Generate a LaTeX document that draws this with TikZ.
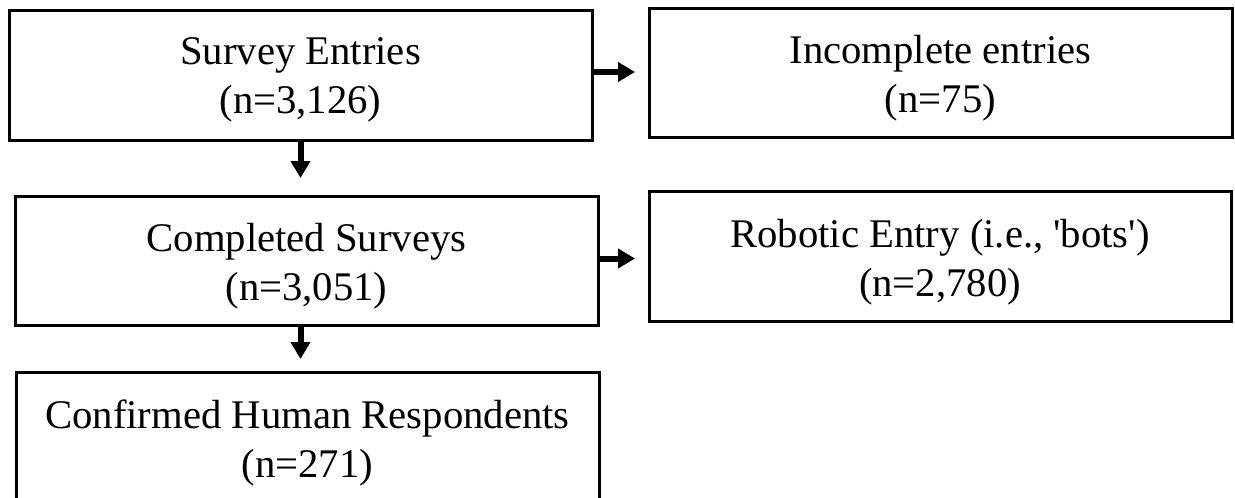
\documentclass[tikz,border=0pt]{standalone}
\usepackage{fontspec}
\setmainfont{Liberation Serif}[Ligatures=TeXOff]
\usetikzlibrary{arrows.meta}
\begin{document}
\begin{tikzpicture}[x=1pt,y=-1pt,
  box/.style={draw, line width=3pt, outer sep=0pt, inner sep=0pt},
  lbl/.style={align=center, inner sep=0pt, font=\fontsize{40.7}{49}\selectfont},
  arr/.style={line width=6pt, -{Triangle[width=19pt,length=17pt]}}]
\useasboundingbox (0,0) rectangle (1235,498);
\node[box, minimum width=583pt, minimum height=130pt] (b1) at (300.5,75) {};
\node[box, minimum width=583pt, minimum height=129pt] (b2) at (940.5,72.5) {};
\node[box, minimum width=583pt, minimum height=129pt] (b3) at (306.5,260.5) {};
\node[box, minimum width=582pt, minimum height=130pt] (b4) at (940,256) {};
\node[box, minimum width=583pt, minimum height=133pt] (b5) at (307.5,438.5) {};
\node[lbl] (t1) at ([yshift=-5pt]b1.center) {Survey Entries\\(n=3,126)};
\node[lbl] (t2) at ([yshift=-6pt]b2.center) {Incomplete entries\\(n=75)};
\node[lbl] (t3) at ([yshift=-6pt]b3.center) {Completed Surveys\\(n=3,051)};
\node[lbl] (t4) at ([yshift=-6pt]b4.center) {Robotic Entry (i.e., 'bots')\\(n=2,780)};
\node[lbl] (t5) at ([yshift=-4pt]b5.center) {Confirmed Human Respondents\\(n=271)};
\draw[arr, shorten >=18pt] (b1.south) -- (b1.south |- b3.north);
\draw[arr, shorten >=13pt] ([xshift=-6pt]b3.south) -- ([xshift=-6pt]b3.south |- b5.north);
\draw[arr, shorten >=14pt] ([yshift=3pt]b1.east) -- ([yshift=3pt]b1.east -| b2.west);
\draw[arr, shorten >=14pt] ([yshift=2pt]b3.east) -- ([yshift=2pt]b3.east -| b4.west);
\end{tikzpicture}
\end{document}
